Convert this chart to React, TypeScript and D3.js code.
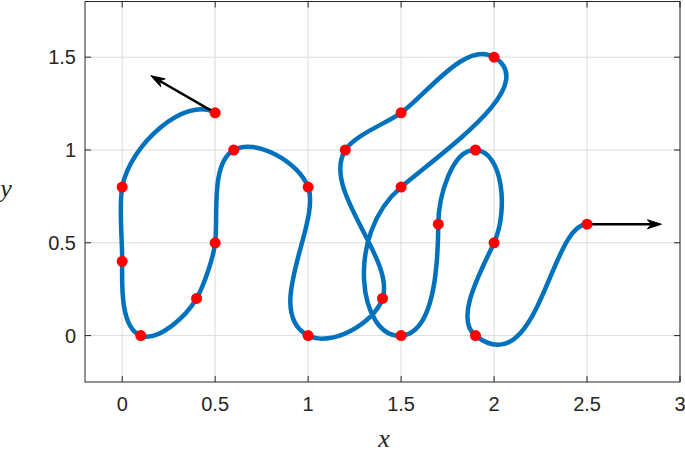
import React from 'react';
import * as d3 from 'd3';

const xs = [0.5, 0, 0, 0.1, 0.4, 0.5, 0.6, 1, 1, 1.4, 1.2, 1.5, 2, 1.5, 1.5, 1.7, 1.9, 2, 1.9, 2.5];
const ys = [1.2, 0.8, 0.4, 0, 0.2, 0.5, 1, 0.8, 0, 0.2, 1, 1.2, 1.5, 0.8, 0, 0.6, 1, 0.5, 0, 0.6];
const startDir = [-0.346, 0.2];
const endDir = [0.4, 0];
const xTicks = [0, 0.5, 1, 1.5, 2, 2.5, 3];
const yTicks = [0, 0.5, 1, 1.5];
const xTickLabels = ['0', '0.5', '1', '1.5', '2', '2.5', '3'];
const yTickLabels = ['0', '0.5', '1', '1.5'];
const tension = 1.3;

type P = [number, number];

function wrap(a: number) {
  while (a > Math.PI) a -= 2 * Math.PI;
  while (a <= -Math.PI) a += 2 * Math.PI;
  return a;
}

function solve(A: number[][], b: number[]) {
  const n = b.length;
  const M = A.map((r, i) => [...r, b[i]]);
  for (let i = 0; i < n; i++) {
    let p = i;
    for (let r = i + 1; r < n; r++) if (Math.abs(M[r][i]) > Math.abs(M[p][i])) p = r;
    [M[i], M[p]] = [M[p], M[i]];
    for (let r = i + 1; r < n; r++) {
      const f = M[r][i] / M[i][i];
      for (let c = i; c <= n; c++) M[r][c] -= f * M[i][c];
    }
  }
  const x = new Array(n).fill(0);
  for (let i = n - 1; i >= 0; i--) {
    let s = M[i][n];
    for (let c = i + 1; c < n; c++) s -= M[i][c] * x[c];
    x[i] = s / M[i][i];
  }
  return x;
}

function hobby(pts: P[], dIn: number[], dOut: number[], tau: number) {
  const n = pts.length - 1;
  const d: number[] = [];
  const ang: number[] = [];
  for (let k = 0; k < n; k++) {
    const dx = pts[k + 1][0] - pts[k][0];
    const dy = pts[k + 1][1] - pts[k][1];
    d.push(Math.hypot(dx, dy));
    ang.push(Math.atan2(dy, dx));
  }
  const psi: number[] = new Array(n + 1).fill(0);
  for (let k = 1; k < n; k++) psi[k] = wrap(ang[k] - ang[k - 1]);
  const theta0 = wrap(Math.atan2(dIn[1], dIn[0]) - ang[0]);
  const phiN = wrap(ang[n - 1] - Math.atan2(dOut[1], dOut[0]));
  const a = 3 * tau - 1;
  const m = n - 1;
  const A: number[][] = Array.from({ length: m }, () => new Array(m).fill(0));
  const b: number[] = new Array(m).fill(0);
  for (let k = 1; k <= n - 1; k++) {
    const i = k - 1;
    let rhs = -a * psi[k] / d[k - 1];
    if (k - 1 === 0) rhs -= theta0 / d[0];
    else A[i][i - 1] += 1 / d[k - 1];
    A[i][i] += a * (1 / d[k - 1] + 1 / d[k]);
    if (k + 1 <= n - 1) {
      A[i][i + 1] += 1 / d[k];
      rhs -= psi[k + 1] / d[k];
    } else {
      rhs += phiN / d[k];
    }
    b[i] = rhs;
  }
  const th = solve(A, b);
  const theta = [theta0, ...th];
  const phi: number[] = new Array(n + 1).fill(0);
  for (let k = 1; k < n; k++) phi[k] = -psi[k] - theta[k];
  phi[n] = phiN;
  const f = (t: number, p: number) => {
    const num = 2 + Math.SQRT2 * (Math.sin(t) - Math.sin(p) / 16) * (Math.sin(p) - Math.sin(t) / 16) * (Math.cos(t) - Math.cos(p));
    const den = 1 + 0.5 * (Math.sqrt(5) - 1) * Math.cos(t) + 0.5 * (3 - Math.sqrt(5)) * Math.cos(p);
    return num / den;
  };
  const segs: [P, P, P, P][] = [];
  for (let k = 0; k < n; k++) {
    const z0 = pts[k], z1 = pts[k + 1];
    const cx = z1[0] - z0[0], cy = z1[1] - z0[1];
    const t = theta[k], p = phi[k + 1];
    const rho = f(t, p) / tau, sig = f(p, t) / tau;
    const c1: P = [
      z0[0] + (rho / 3) * (cx * Math.cos(t) - cy * Math.sin(t)),
      z0[1] + (rho / 3) * (cx * Math.sin(t) + cy * Math.cos(t)),
    ];
    const c2: P = [
      z1[0] - (sig / 3) * (cx * Math.cos(-p) - cy * Math.sin(-p)),
      z1[1] - (sig / 3) * (cx * Math.sin(-p) + cy * Math.cos(-p)),
    ];
    segs.push([z0, c1, c2, z1]);
  }
  return segs;
}

const W = 685, H = 455;
const x = d3.scaleLinear().domain([-0.2, 3]).range([85, 680]);
const y = d3.scaleLinear().domain([-0.25, 1.8]).range([382, 1.5]);

function Arrow({ from, vec }: { from: P; vec: number[] }) {
  const x0 = x(from[0]), y0 = y(from[1]);
  const x1 = x(from[0] + vec[0]), y1 = y(from[1] + vec[1]);
  const L = Math.hypot(x1 - x0, y1 - y0);
  const ux = (x1 - x0) / L, uy = (y1 - y0) / L;
  const hl = 14, hw = 4.5, notch = 10;
  const bx = x1 - ux * hl, by = y1 - uy * hl;
  const nx = x1 - ux * notch, ny = y1 - uy * notch;
  const pts = [
    [x1, y1],
    [bx - uy * hw, by + ux * hw],
    [nx, ny],
    [bx + uy * hw, by - ux * hw],
  ];
  return (
    <g>
      <line x1={x0} y1={y0} x2={nx} y2={ny} stroke="#000" strokeWidth={2.5} />
      <polygon points={pts.map((p) => p.join(',')).join(' ')} fill="#000" stroke="#000" strokeWidth={1} strokeLinejoin="miter" />
    </g>
  );
}

export default function App() {
  const pts: P[] = xs.map((v, i) => [v, ys[i]]);
  const segs = hobby(pts, startDir, endDir, tension);
  const path = d3.path();
  path.moveTo(x(segs[0][0][0]), y(segs[0][0][1]));
  segs.forEach(([, c1, c2, z1]) => {
    path.bezierCurveTo(x(c1[0]), y(c1[1]), x(c2[0]), y(c2[1]), x(z1[0]), y(z1[1]));
  });
  const [x0, x1] = x.range();
  const [y0, y1] = y.range();
  const font = '"Liberation Sans", Arial, Helvetica, sans-serif';
  const serif = '"Liberation Serif", "Times New Roman", serif';
  return (
    <svg width={W} height={H} style={{ position: 'absolute', left: 0, top: 0, background: '#fff' }}>
      <rect x={0} y={0} width={W} height={H} fill="#fff" />
      <g stroke="#dcdcdc" strokeWidth={1}>
        {xTicks.map((t) => (
          <line key={'gx' + t} x1={x(t)} x2={x(t)} y1={y0} y2={y1} />
        ))}
        {yTicks.map((t) => (
          <line key={'gy' + t} x1={x0} x2={x1} y1={y(t)} y2={y(t)} />
        ))}
      </g>
      <path d={path.toString()} fill="none" stroke="#0072BD" strokeWidth={4.5} strokeLinejoin="round" strokeLinecap="round" />
      <Arrow from={pts[0]} vec={startDir} />
      <Arrow from={pts[pts.length - 1]} vec={endDir} />
      {pts.map((p, i) => (
        <circle key={i} cx={x(p[0])} cy={y(p[1])} r={5.5} fill="#ff0000" />
      ))}
      <g stroke="#262626" strokeWidth={1}>
        <rect x={x0} y={y1} width={x1 - x0} height={y0 - y1} fill="none" />
        {xTicks.map((t) => (
          <g key={'tx' + t}>
            <line x1={x(t)} x2={x(t)} y1={y0} y2={y0 - 6} />
            <line x1={x(t)} x2={x(t)} y1={y1} y2={y1 + 6} />
          </g>
        ))}
        {yTicks.map((t) => (
          <g key={'ty' + t}>
            <line x1={x0} x2={x0 + 6} y1={y(t)} y2={y(t)} />
            <line x1={x1} x2={x1 - 6} y1={y(t)} y2={y(t)} />
          </g>
        ))}
      </g>
      <g fill="#262626" fontFamily={font} fontSize={20}>
        {xTicks.map((t, i) => (
          <text key={'lx' + t} x={x(t)} y={411} textAnchor="middle">
            {xTickLabels[i]}
          </text>
        ))}
        {yTicks.map((t, i) => (
          <text key={'ly' + t} x={76} y={y(t) + 7} textAnchor="end">
            {yTickLabels[i]}
          </text>
        ))}
      </g>
      <text x={384} y={447} textAnchor="middle" fontFamily={serif} fontStyle="italic" fontSize={26} fill="#262626">
        x
      </text>
      <text x={6} y={197} textAnchor="middle" fontFamily={serif} fontStyle="italic" fontSize={26} fill="#262626">
        y
      </text>
    </svg>
  );
}
